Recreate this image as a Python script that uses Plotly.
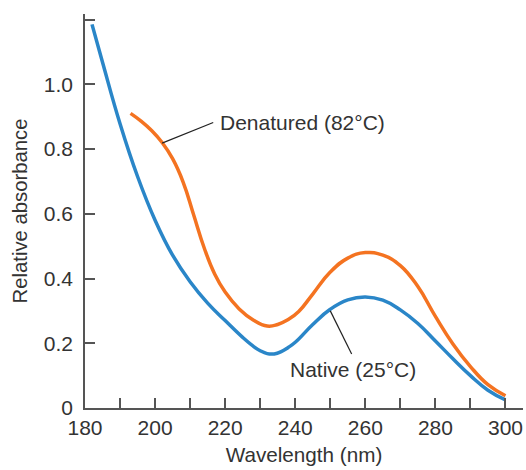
import plotly.graph_objects as go

# Native (25°C)
native_nm = [182, 185, 190, 195, 200, 205, 210, 215, 220, 225, 228, 230, 232, 234, 236,
             238, 240, 245, 250, 255, 260, 265, 270, 275, 280, 285, 290, 295, 300]
native_abs = [1.185, 1.068, 0.878, 0.715, 0.58, 0.472, 0.39, 0.324, 0.27, 0.218, 0.191,
              0.177, 0.168, 0.167, 0.174, 0.187, 0.203, 0.258, 0.305, 0.334, 0.343, 0.333,
              0.303, 0.261, 0.207, 0.152, 0.10, 0.055, 0.025]

# Denatured (82°C)
denat_nm = [193, 196, 199, 202, 205, 208, 211, 214, 217, 220, 224, 228, 232, 235, 238,
            241, 245, 250, 255, 260, 265, 270, 275, 280, 285, 290, 295, 300]
denat_abs = [0.91, 0.886, 0.857, 0.82, 0.77, 0.698, 0.597, 0.495, 0.414, 0.358, 0.306, 0.272,
             0.253, 0.258, 0.273, 0.298, 0.352, 0.42, 0.463, 0.48, 0.472, 0.44, 0.375,
             0.283, 0.198, 0.128, 0.072, 0.038]

x_ticks = [180, 200, 220, 240, 260, 280, 300]
y_ticks = [0, 0.2, 0.4, 0.6, 0.8, 1.0, 1.2]
y_ticktext = ["0", "0.2", "0.4", "0.6", "0.8", "1.0", ""]

BLUE = "#2a86c8"
ORANGE = "#f47321"
AXIS = "#555555"
TEXT = "#333333"
FONT = "Liberation Sans, Arial, sans-serif"

fig = go.Figure()
fig.add_trace(go.Scatter(x=native_nm, y=native_abs, mode="lines",
                         line=dict(color=BLUE, width=3.5, shape="spline", smoothing=1.3),
                         name="Native (25°C)", showlegend=False))
fig.add_trace(go.Scatter(x=denat_nm, y=denat_abs, mode="lines",
                         line=dict(color=ORANGE, width=3.5, shape="spline", smoothing=1.3),
                         name="Denatured (82°C)", showlegend=False))

# Leader lines (data coordinates)
fig.add_shape(type="line", x0=202.0, y0=0.818, x1=216.6, y1=0.882,
              line=dict(color="#222222", width=1.2), layer="above")
fig.add_shape(type="line", x0=250.0, y0=0.30, x1=256.1, y1=0.167,
              line=dict(color="#222222", width=1.2), layer="above")

fig.add_annotation(x=218.0, y=0.882, text="Denatured (82°C)", showarrow=False,
                   xanchor="left", yanchor="middle",
                   font=dict(family=FONT, size=21, color=TEXT))
fig.add_annotation(x=237.8, y=0.118, text="Native (25°C)", showarrow=False,
                   xanchor="left", yanchor="middle",
                   font=dict(family=FONT, size=21, color=TEXT))

fig.update_layout(
    width=526, height=470,
    margin=dict(l=85, r=3, t=14, b=62),
    plot_bgcolor="white", paper_bgcolor="white",
    font=dict(family=FONT, size=21, color=TEXT),
    xaxis=dict(range=[180, 305], showgrid=False, zeroline=False,
               showline=True, linecolor=AXIS, linewidth=1.5,
               tickmode="array", tickvals=x_ticks, ticks="inside", ticklen=10,
               tickcolor=AXIS, tickwidth=1.5,
               minor=dict(dtick=10, tick0=180, ticks="inside", ticklen=10,
                          tickcolor=AXIS, tickwidth=1.5, showgrid=False),
               tickfont=dict(family=FONT, size=21, color=TEXT),
               ticklabelstandoff=0,
               title=dict(text="Wavelength (nm)", standoff=10,
                          font=dict(family=FONT, size=20.7, color=TEXT))),
    yaxis=dict(range=[0, 1.217], showgrid=False, zeroline=False,
               showline=True, linecolor=AXIS, linewidth=1.5,
               tickmode="array", tickvals=y_ticks, ticktext=y_ticktext,
               ticks="inside", ticklen=10, tickcolor=AXIS, tickwidth=1.5,
               tickfont=dict(family=FONT, size=21, color=TEXT),
               ticklabelstandoff=6,
               title=dict(text="Relative absorbance", standoff=11,
                          font=dict(family=FONT, size=20.3, color=TEXT))),
)

fig.write_html("out.html")
